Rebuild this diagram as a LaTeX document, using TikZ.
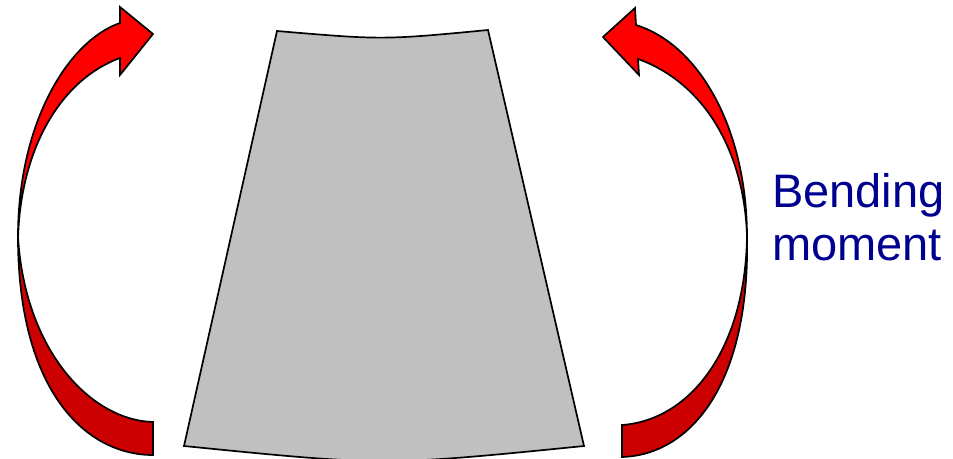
\documentclass[tikz,border=0pt]{standalone}
\usepackage{fontspec}
\setmainfont{Liberation Sans}
\definecolor{arrowred}{HTML}{FF0000}
\definecolor{arrowdark}{HTML}{CC0000}
\definecolor{beamgray}{HTML}{C0C0C0}
\definecolor{labelblue}{HTML}{000090}

\begin{document}
\begin{tikzpicture}[
    x=1pt, y=-1pt,
    front/.style={draw=black, fill=arrowred, line width=1.7pt, line join=miter},
    back/.style={draw=black, fill=arrowdark, line width=1.7pt, line join=miter},
    beam/.style={draw=black, fill=beamgray, line width=1.7pt},
  ]
\useasboundingbox (0,0) rectangle (953,458);

% bent piece
\draw[beam] (277,31) .. controls (383,40) .. (488,30)
  -- (584,446) .. controls (384,466) .. (184,446) -- cycle;

% left moment arrow
\draw[back] (18,237) .. controls (18,390) and (85,455) .. (153,455)
  -- (153,422) .. controls (90,420) and (25,350) .. (18,237) -- cycle;
\draw[front] (18,237) .. controls (18,120) and (70,40) .. (120,23)
  -- (120,7) -- (153,34) -- (120,75) -- (120,58)
  .. controls (60,80) and (20,150) .. (18,240) -- cycle;

% right moment arrow
\draw[back] (747,237) .. controls (750,385) and (690,455) .. (622,457)
  -- (622,425) .. controls (690,420) and (745,350) .. (747,237) -- cycle;
\draw[front] (747,237) .. controls (745,160) and (710,85) .. (638,59)
  -- (639,75) -- (603,37) -- (635,8) -- (636,25)
  .. controls (700,45) and (747,130) .. (747,237) -- cycle;

\node[anchor=base west, align=left, inner sep=0pt, text=labelblue,
      font=\fontsize{47}{53}\selectfont] (label) at (772,260) {Bending\\moment};

\end{tikzpicture}
\end{document}
